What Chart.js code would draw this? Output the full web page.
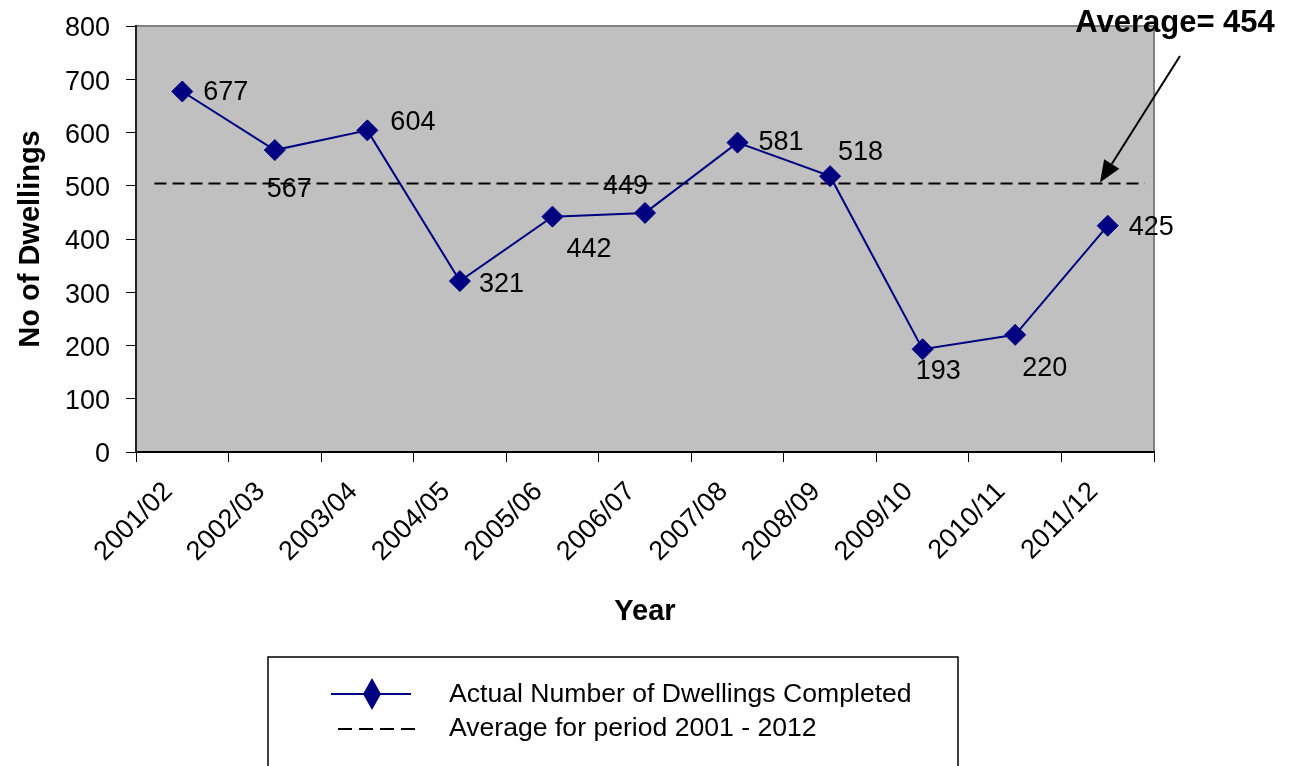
<!DOCTYPE html>
<html><head><meta charset="utf-8">
<script src="https://cdn.jsdelivr.net/npm/chart.js@4"></script>
<style>html,body{margin:0;padding:0;background:#fff;}#wrap{width:1303px;height:766px;position:relative;}</style>
</head><body><div id="wrap"><canvas id="c" width="1303" height="766"></canvas></div>
<script>
// ---- data ----
const categories = ['2001/02','2002/03','2003/04','2004/05','2005/06','2006/07','2007/08','2008/09','2009/10','2010/11','2011/12'];
const dwellingsCompleted = [677,567,604,321,442,449,581,518,193,220,425];
const averageLevel = 504;            // level at which the dashed average line is drawn
const averageSpan = [-0.3, 10.4];    // start / end of the average line, in category units
const averageLabelText = 'Average= 454';
const yTickMin = 0, yTickMax = 800, yTickStep = 100;
const seriesNames = ['Actual Number of Dwellings Completed', 'Average for period 2001 - 2012'];
const xTitle = 'Year', yTitle = 'No of Dwellings';

// ---- style ----
const FONT = "'Liberation Sans', Arial, sans-serif";
const NAVY = '#000080';
const labelOffsets = [[21,1],[-8,39],[23,-8],[19,3],[14,33],[-42,-26],[21,0],[8,-24],[-7,22],[7,34],[21,2]];

const decor = {
  id: 'decor',
  beforeDraw(chart) {
    const {ctx, chartArea: a} = chart;
    ctx.save();
    ctx.fillStyle = '#C0C0C0';
    ctx.fillRect(a.left, a.top, a.right - a.left, a.bottom - a.top);
    ctx.strokeStyle = '#808080'; ctx.lineWidth = 2;
    ctx.beginPath(); ctx.moveTo(a.left, a.top); ctx.lineTo(a.right, a.top); ctx.lineTo(a.right, a.bottom); ctx.stroke();
    ctx.restore();
  },
  afterDraw(chart) {
    const {ctx, chartArea: a} = chart;
    const meta = chart.getDatasetMeta(0);
    ctx.save();
    ctx.fillStyle = '#000';
    ctx.font = `27px ${FONT}`;
    ctx.textAlign = 'left'; ctx.textBaseline = 'middle';
    meta.data.forEach((pt, i) => {
      const [dx, dy] = labelOffsets[i];
      ctx.fillText(String(dwellingsCompleted[i]), pt.x + dx, pt.y + dy);
    });
    // axis titles
    ctx.font = `bold 29px ${FONT}`;
    ctx.textAlign = 'center';
    ctx.fillText(xTitle, (a.left + a.right) / 2, 612);
    ctx.save();
    ctx.translate(31, (a.top + a.bottom) / 2);
    ctx.rotate(-Math.PI / 2);
    ctx.fillText(yTitle, 0, 0);
    ctx.restore();
    // annotation
    ctx.font = `bold 31px ${FONT}`;
    ctx.fillText(averageLabelText, 1175, 23);
    const yAvg = chart.scales.y.getPixelForValue(averageLevel);
    const sx = 1180, sy = 56, tx = 1100, ty = yAvg - 1;
    const len = Math.hypot(tx - sx, ty - sy), ux = (tx - sx) / len, uy = (ty - sy) / len;
    const hl = 22, hw = 9;
    const bx = tx - ux * hl, by = ty - uy * hl;
    ctx.strokeStyle = '#000'; ctx.lineWidth = 2;
    ctx.beginPath(); ctx.moveTo(sx, sy); ctx.lineTo(bx, by); ctx.stroke();
    ctx.beginPath(); ctx.moveTo(tx, ty); ctx.lineTo(bx - uy * hw, by + ux * hw); ctx.lineTo(bx + uy * hw, by - ux * hw); ctx.closePath(); ctx.fill();
    // legend box
    ctx.lineWidth = 1.5; ctx.strokeStyle = '#000';
    ctx.strokeRect(268, 657, 690, 140);
    ctx.strokeStyle = NAVY; ctx.lineWidth = 2;
    ctx.beginPath(); ctx.moveTo(331, 694); ctx.lineTo(411, 694); ctx.stroke();
    ctx.fillStyle = NAVY;
    ctx.beginPath(); ctx.moveTo(372, 678); ctx.lineTo(381, 694); ctx.lineTo(372, 710); ctx.lineTo(363, 694); ctx.closePath(); ctx.fill();
    ctx.strokeStyle = '#000'; ctx.setLineDash([14, 7]);
    ctx.beginPath(); ctx.moveTo(338, 729); ctx.lineTo(417, 729); ctx.stroke();
    ctx.setLineDash([]);
    ctx.fillStyle = '#000';
    ctx.font = `26.6px ${FONT}`; ctx.textAlign = 'left';
    ctx.fillText(seriesNames[0], 449, 695);
    ctx.fillText(seriesNames[1], 449, 729);
    ctx.restore();
  }
};

new Chart(document.getElementById('c'), {
  type: 'line',
  data: {
    labels: categories,
    datasets: [
      {
        label: seriesNames[0], data: dwellingsCompleted,
        borderColor: NAVY, backgroundColor: NAVY, borderWidth: 2, tension: 0, fill: false,
        pointStyle: 'rectRot', pointRadius: 10.5, pointBorderWidth: 1,
        pointBackgroundColor: NAVY, pointBorderColor: NAVY
      },
      {
        label: seriesNames[1], xAxisID: 'xAvg',
        data: averageSpan.map(x => ({x, y: averageLevel})),
        borderColor: '#000', borderWidth: 2, borderDash: [12, 6], pointRadius: 0, fill: false
      }
    ]
  },
  options: {
    responsive: false, animation: false, devicePixelRatio: 1,
    layout: {padding: {top: 26, right: 149, left: 0, bottom: 0}},
    plugins: {legend: {display: false}, tooltip: {enabled: false}},
    scales: {
      x: {
        type: 'category', offset: true,
        grid: {offset: true, drawOnChartArea: false, drawTicks: true, tickLength: 10, color: '#000', lineWidth: 1},
        border: {display: true, color: '#000', width: 2},
        ticks: {autoSkip: false, maxRotation: 45, minRotation: 45, color: '#000', font: {family: FONT, size: 27}, padding: 14, labelOffset: -14},
        afterFit(s) { s.height = 314; s.paddingLeft = 0; s.paddingRight = 0; }
      },
      xAvg: {type: 'linear', display: false, min: -0.5, max: 10.5},
      y: {
        min: yTickMin, max: yTickMax,
        grid: {drawOnChartArea: false, drawTicks: true, tickLength: 10, color: '#000', lineWidth: 1},
        border: {display: true, color: '#222', width: 2},
        ticks: {stepSize: yTickStep, color: '#000', font: {family: FONT, size: 27}, padding: 16, labelOffset: 3},
        afterFit(s) { s.width = 136; s.paddingTop = 0; s.paddingBottom = 0; }
      }
    }
  },
  plugins: [decor]
});
</script></body></html>
